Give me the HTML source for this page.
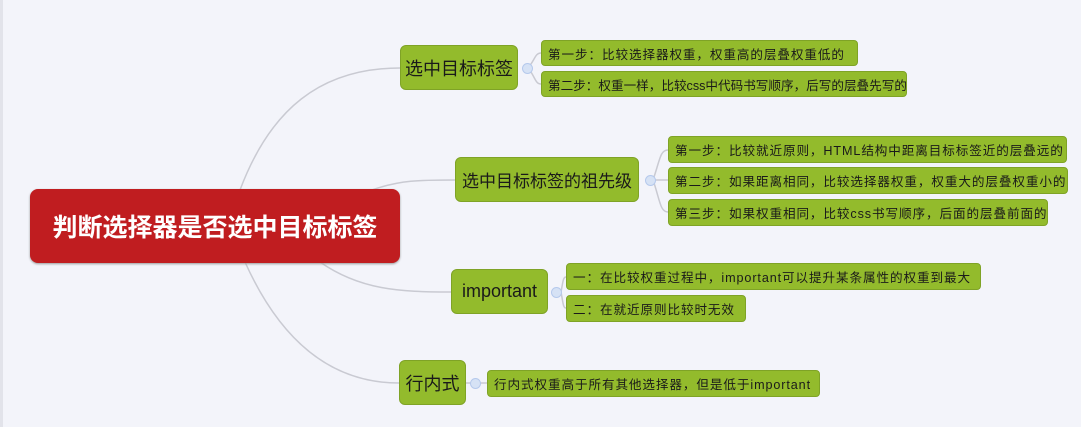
<!DOCTYPE html>
<html><head><meta charset="utf-8"><style>
body{margin:0;width:1081px;height:427px;background:#f3f4fa;position:relative;overflow:hidden;font-family:"Liberation Sans","Noto Sans CJK SC",sans-serif}
.b{position:absolute;background:#93bb2c;border:1px solid #7fa326;border-radius:4px;color:#1a1a1a;box-sizing:border-box;display:flex;align-items:center;white-space:nowrap;overflow:hidden}
.m{font-size:18px;justify-content:center;border-radius:6px}
.s{font-size:12.6px;padding-left:6px;letter-spacing:0.9px}
.r{position:absolute;left:30px;top:189px;width:370px;height:74px;background:#c01d20;border-radius:8px;color:#fff;font-size:25px;font-weight:bold;display:flex;align-items:center;justify-content:center;box-shadow:0 1px 2px #999}
.d{position:absolute;width:9px;height:9px;border-radius:50%;background:#d6e2f5;border:1px solid #b5c9ec}
</style></head><body>
<div style="position:absolute;left:0;top:0;width:3px;height:427px;background:#e2e3ea"></div>
<svg width="1081" height="427" style="position:absolute;left:0;top:0">
<g fill="none" stroke="#c9cad2" stroke-width="1.5">
<path d="M240 190 C270 110 320 68 400 68"/>
<path d="M372 190 C400 180 420 180 455 180"/>
<path d="M320 262 C360 290 400 292 451 292"/>
<path d="M245 262 C280 340 330 383 399 383"/>
<path d="M528 68 C535 60 535 53 541 53"/><path d="M528 68 C535 76 535 84 541 84"/>
<path d="M653 180 C660 160 660 150 668 150"/><path d="M653 180 L668 180"/><path d="M653 180 C660 200 660 212 668 212"/>
<path d="M561 292 C563 282 563 277 566 277"/><path d="M561 292 C563 302 563 308 566 308"/>
<path d="M466 383 L487 383"/>
</g></svg>
<div class="r">判断选择器是否选中目标标签</div>
<div class="b m" style="left:400px;top:45px;width:118px;height:45px">选中目标标签</div>
<div class="d" style="left:522px;top:63px"></div>
<div class="b s" style="left:541px;top:40px;width:317px;height:26px">第一步：比较选择器权重，权重高的层叠权重低的</div>
<div class="b s" style="left:541px;top:71px;width:366px;height:26px;letter-spacing:0">第二步：权重一样，比较css中代码书写顺序，后写的层叠先写的</div>
<div class="b m" style="left:455px;top:157px;width:184px;height:45px;font-size:17px">选中目标标签的祖先级</div>
<div class="d" style="left:645px;top:175px"></div>
<div class="b s" style="left:668px;top:136px;width:399px;height:27px">第一步：比较就近原则，HTML结构中距离目标标签近的层叠远的</div>
<div class="b s" style="left:668px;top:167px;width:400px;height:27px">第二步：如果距离相同，比较选择器权重，权重大的层叠权重小的</div>
<div class="b s" style="left:668px;top:199px;width:380px;height:27px">第三步：如果权重相同，比较css书写顺序，后面的层叠前面的</div>
<div class="b m" style="left:451px;top:269px;width:97px;height:45px">important</div>
<div class="d" style="left:551px;top:287px"></div>
<div class="b s" style="left:566px;top:263px;width:415px;height:27px">一：在比较权重过程中，important可以提升某条属性的权重到最大</div>
<div class="b s" style="left:566px;top:295px;width:180px;height:27px">二：在就近原则比较时无效</div>
<div class="b m" style="left:399px;top:360px;width:67px;height:45px">行内式</div>
<div class="d" style="left:470px;top:378px"></div>
<div class="b s" style="left:487px;top:370px;width:333px;height:27px">行内式权重高于所有其他选择器，但是低于important</div>
</body></html>
